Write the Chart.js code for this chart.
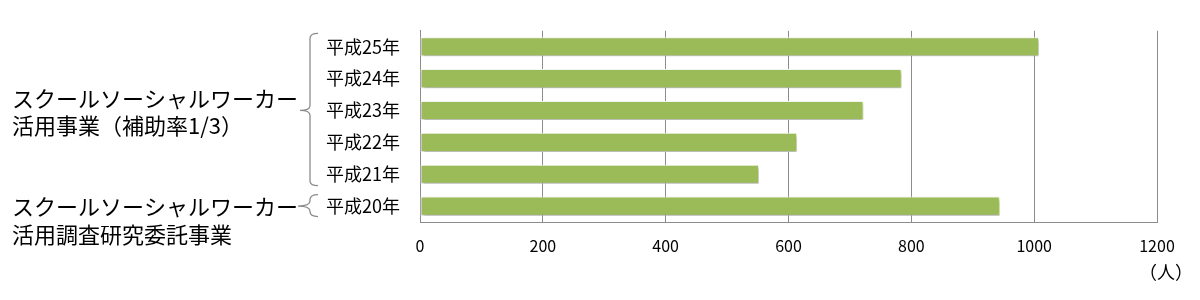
<!DOCTYPE html>
<html lang="ja">
<head>
<meta charset="utf-8">
<script src="https://cdn.jsdelivr.net/npm/chart.js@4"></script>
<style>
  html, body { margin: 0; background: #fff; }
  #wrap { width: 1200px; height: 300px; }
</style>
</head>
<body>
<div id="wrap"><canvas id="c"></canvas></div>
<script>
// data (人)
const years = ['平成25年', '平成24年', '平成23年', '平成22年', '平成21年', '平成20年'];
const staff = [1008, 784, 722, 614, 552, 944];
const xTicks = [0, 200, 400, 600, 800, 1000, 1200];
const groupA = ['スクールソーシャルワーカー', '活用事業（補助率1/3）'];
const groupB = ['スクールソーシャルワーカー', '活用調査研究委託事業'];
const unitLabel = '（人）';

const JP = "'Noto Sans CJK JP', 'Noto Sans', sans-serif";

// curly brace pointing left
function brace(ctx, x, top, bottom, mid, tip){
  const r = 5;
  ctx.beginPath();
  ctx.moveTo(x + 8, top);
  ctx.quadraticCurveTo(x, top, x, top + r);
  ctx.lineTo(x, mid - r);
  ctx.quadraticCurveTo(x, mid, tip, mid);
  ctx.quadraticCurveTo(x, mid, x, mid + r);
  ctx.lineTo(x, bottom - r);
  ctx.quadraticCurveTo(x, bottom, x + 8, bottom);
  ctx.stroke();
}

const groups = {
  id: 'groups',
  beforeDatasetsDraw(chart){
    const ctx = chart.ctx;
    ctx.save();
    ctx.shadowColor = 'rgba(0,0,0,0.35)';
    ctx.shadowBlur = 3;
    ctx.shadowOffsetX = 1;
    ctx.shadowOffsetY = 2;
  },
  afterDatasetsDraw(chart){
    chart.ctx.restore();
  },
  afterDraw(chart){
    const ctx = chart.ctx;
    const y = chart.scales.y;
    const step = y.getPixelForValue(1) - y.getPixelForValue(0);
    ctx.save();
    ctx.strokeStyle = '#8c8c8c';
    ctx.lineWidth = 1.3;

    // 平成21-25年
    const aTop = y.getPixelForValue(0) - step * 0.42;
    const aBot = y.getPixelForValue(4) + step * 0.36;
    const aMid = y.getPixelForValue(2);
    brace(ctx, 310, aTop, aBot, aMid, 300);
    // 平成20年
    const bMid = y.getPixelForValue(5);
    brace(ctx, 310, bMid - step * 0.36, bMid + step * 0.33, bMid, 298);

    ctx.fillStyle = '#000';
    ctx.font = '22px ' + JP;
    ctx.textAlign = 'left';
    ctx.textBaseline = 'middle';
    ctx.fillText(groupA[0], 12, aMid - 12);
    ctx.fillText(groupA[1], 12, aMid + 15);
    ctx.fillText(groupB[0], 12, bMid + 1);
    ctx.fillText(groupB[1], 12, bMid + 29);

    ctx.font = '18px ' + JP;
    ctx.textAlign = 'right';
    ctx.fillText(unitLabel, 1193, 272);
    ctx.restore();
  }
};

new Chart(document.getElementById('c'), {
  type: 'bar',
  data: {
    labels: years,
    datasets: [{
      data: staff,
      backgroundColor: '#9bbb59',
      borderColor: '#f4f7ee',
      borderWidth: 1,
      borderSkipped: false,
      barPercentage: 0.6,
      categoryPercentage: 1
    }]
  },
  options: {
    indexAxis: 'y',
    responsive: true,
    maintainAspectRatio: false,
    animation: false,
    layout: { padding: { top: 23, right: 43, left: 0, bottom: 0 } },
    plugins: { legend: { display: false }, tooltip: { enabled: false } },
    scales: {
      x: {
        min: 0, max: 1200,
        afterBuildTicks: s => { s.ticks = xTicks.map(v => ({ value: v })); },
        afterFit: s => { s.height = 78; },
        grid: { color: '#8c8c8c', lineWidth: 1, drawTicks: false },
        border: { display: true, color: '#8c8c8c' },
        ticks: { color: '#000', padding: 14, callback: v => String(v), font: { family: JP, size: 16 } }
      },
      y: {
        afterFit: s => { s.width = 420; },
        grid: { display: false, drawTicks: false },
        border: { display: true, color: '#8c8c8c' },
        ticks: { color: '#000', padding: 20, font: { family: JP, size: 18 } }
      }
    }
  },
  plugins: [groups]
});
</script>
</body>
</html>
